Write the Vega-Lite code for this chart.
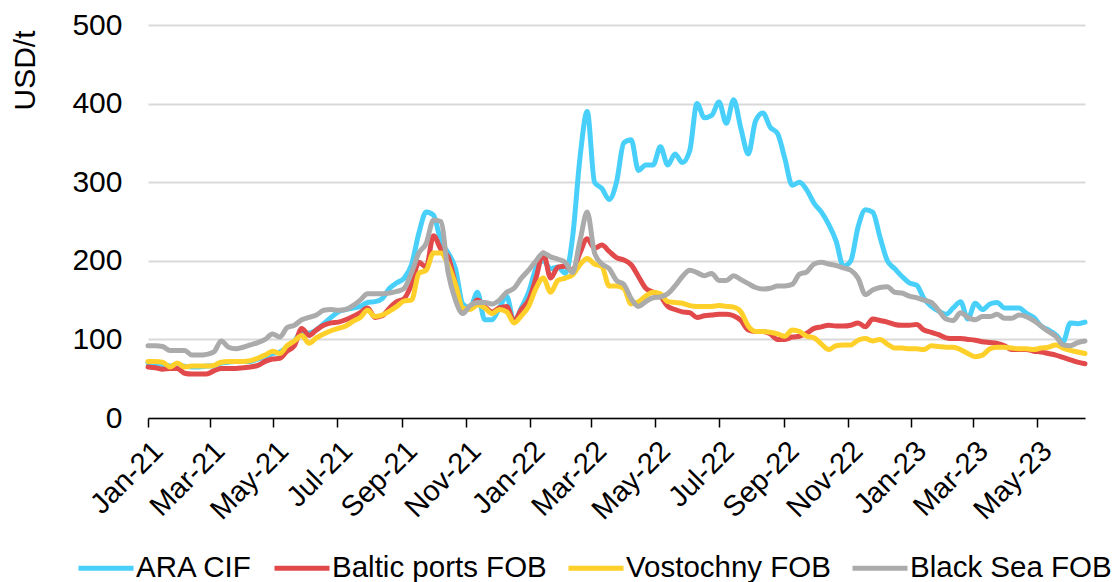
{
"$schema":"https://vega.github.io/schema/vega-lite/v6.json",
"autosize":{"type":"none"},
"padding":{"left":148,"top":25,"right":32,"bottom":164},
"width":937,"height":393,
"background":"white",
"config":{"view":{"stroke":null},"font":"Liberation Sans"},
"data":{"values":[
{"d":"2021-01-01","ARA CIF":70,"Baltic ports FOB":65,"Vostochny FOB":72,"Black Sea FOB":92},
{"d":"2021-01-08","ARA CIF":69,"Baltic ports FOB":64,"Vostochny FOB":72,"Black Sea FOB":92},
{"d":"2021-01-15","ARA CIF":68,"Baltic ports FOB":62,"Vostochny FOB":71,"Black Sea FOB":91},
{"d":"2021-01-22","ARA CIF":66,"Baltic ports FOB":63,"Vostochny FOB":65,"Black Sea FOB":86},
{"d":"2021-01-29","ARA CIF":67,"Baltic ports FOB":63,"Vostochny FOB":70,"Black Sea FOB":86},
{"d":"2021-02-05","ARA CIF":66,"Baltic ports FOB":57,"Vostochny FOB":65,"Black Sea FOB":86},
{"d":"2021-02-12","ARA CIF":65,"Baltic ports FOB":56,"Vostochny FOB":66,"Black Sea FOB":80},
{"d":"2021-02-19","ARA CIF":65,"Baltic ports FOB":56,"Vostochny FOB":66,"Black Sea FOB":80},
{"d":"2021-02-26","ARA CIF":66,"Baltic ports FOB":56,"Vostochny FOB":66,"Black Sea FOB":81},
{"d":"2021-03-05","ARA CIF":66,"Baltic ports FOB":60,"Vostochny FOB":67,"Black Sea FOB":84},
{"d":"2021-03-12","ARA CIF":70,"Baltic ports FOB":63,"Vostochny FOB":71,"Black Sea FOB":98},
{"d":"2021-03-19","ARA CIF":71,"Baltic ports FOB":63,"Vostochny FOB":72,"Black Sea FOB":90},
{"d":"2021-03-26","ARA CIF":72,"Baltic ports FOB":63,"Vostochny FOB":72,"Black Sea FOB":88},
{"d":"2021-04-02","ARA CIF":72,"Baltic ports FOB":64,"Vostochny FOB":72,"Black Sea FOB":90},
{"d":"2021-04-09","ARA CIF":72,"Baltic ports FOB":65,"Vostochny FOB":73,"Black Sea FOB":93},
{"d":"2021-04-16","ARA CIF":75,"Baltic ports FOB":67,"Vostochny FOB":76,"Black Sea FOB":96},
{"d":"2021-04-23","ARA CIF":78,"Baltic ports FOB":72,"Vostochny FOB":80,"Black Sea FOB":100},
{"d":"2021-04-30","ARA CIF":82,"Baltic ports FOB":75,"Vostochny FOB":85,"Black Sea FOB":107},
{"d":"2021-05-07","ARA CIF":84,"Baltic ports FOB":76,"Vostochny FOB":82,"Black Sea FOB":103},
{"d":"2021-05-14","ARA CIF":90,"Baltic ports FOB":85,"Vostochny FOB":92,"Black Sea FOB":115},
{"d":"2021-05-21","ARA CIF":98,"Baltic ports FOB":92,"Vostochny FOB":98,"Black Sea FOB":118},
{"d":"2021-05-28","ARA CIF":110,"Baltic ports FOB":114,"Vostochny FOB":105,"Black Sea FOB":125},
{"d":"2021-06-04","ARA CIF":108,"Baltic ports FOB":105,"Vostochny FOB":95,"Black Sea FOB":128},
{"d":"2021-06-11","ARA CIF":112,"Baltic ports FOB":112,"Vostochny FOB":102,"Black Sea FOB":131},
{"d":"2021-06-18","ARA CIF":120,"Baltic ports FOB":118,"Vostochny FOB":107,"Black Sea FOB":137},
{"d":"2021-06-25","ARA CIF":128,"Baltic ports FOB":121,"Vostochny FOB":111,"Black Sea FOB":138},
{"d":"2021-07-02","ARA CIF":135,"Baltic ports FOB":122,"Vostochny FOB":114,"Black Sea FOB":137},
{"d":"2021-07-09","ARA CIF":138,"Baltic ports FOB":125,"Vostochny FOB":117,"Black Sea FOB":138},
{"d":"2021-07-16","ARA CIF":140,"Baltic ports FOB":129,"Vostochny FOB":123,"Black Sea FOB":143},
{"d":"2021-07-23","ARA CIF":142,"Baltic ports FOB":134,"Vostochny FOB":128,"Black Sea FOB":150},
{"d":"2021-07-30","ARA CIF":147,"Baltic ports FOB":140,"Vostochny FOB":137,"Black Sea FOB":158},
{"d":"2021-08-06","ARA CIF":148,"Baltic ports FOB":128,"Vostochny FOB":129,"Black Sea FOB":158},
{"d":"2021-08-13","ARA CIF":152,"Baltic ports FOB":130,"Vostochny FOB":131,"Black Sea FOB":158},
{"d":"2021-08-20","ARA CIF":165,"Baltic ports FOB":140,"Vostochny FOB":136,"Black Sea FOB":159},
{"d":"2021-08-27","ARA CIF":172,"Baltic ports FOB":148,"Vostochny FOB":142,"Black Sea FOB":161},
{"d":"2021-09-03","ARA CIF":178,"Baltic ports FOB":152,"Vostochny FOB":149,"Black Sea FOB":165},
{"d":"2021-09-10","ARA CIF":195,"Baltic ports FOB":170,"Vostochny FOB":150,"Black Sea FOB":185},
{"d":"2021-09-17","ARA CIF":235,"Baltic ports FOB":198,"Vostochny FOB":184,"Black Sea FOB":210},
{"d":"2021-09-24","ARA CIF":262,"Baltic ports FOB":192,"Vostochny FOB":188,"Black Sea FOB":222},
{"d":"2021-10-01","ARA CIF":258,"Baltic ports FOB":232,"Vostochny FOB":210,"Black Sea FOB":252},
{"d":"2021-10-08","ARA CIF":225,"Baltic ports FOB":215,"Vostochny FOB":210,"Black Sea FOB":250},
{"d":"2021-10-15","ARA CIF":210,"Baltic ports FOB":205,"Vostochny FOB":195,"Black Sea FOB":185},
{"d":"2021-10-22","ARA CIF":190,"Baltic ports FOB":170,"Vostochny FOB":170,"Black Sea FOB":150},
{"d":"2021-10-29","ARA CIF":145,"Baltic ports FOB":138,"Vostochny FOB":140,"Black Sea FOB":133},
{"d":"2021-11-05","ARA CIF":140,"Baltic ports FOB":140,"Vostochny FOB":138,"Black Sea FOB":143},
{"d":"2021-11-12","ARA CIF":160,"Baltic ports FOB":150,"Vostochny FOB":144,"Black Sea FOB":147},
{"d":"2021-11-19","ARA CIF":125,"Baltic ports FOB":142,"Vostochny FOB":140,"Black Sea FOB":147},
{"d":"2021-11-26","ARA CIF":125,"Baltic ports FOB":135,"Vostochny FOB":133,"Black Sea FOB":145},
{"d":"2021-12-03","ARA CIF":140,"Baltic ports FOB":140,"Vostochny FOB":138,"Black Sea FOB":150},
{"d":"2021-12-10","ARA CIF":155,"Baltic ports FOB":142,"Vostochny FOB":135,"Black Sea FOB":160},
{"d":"2021-12-17","ARA CIF":123,"Baltic ports FOB":123,"Vostochny FOB":121,"Black Sea FOB":165},
{"d":"2021-12-24","ARA CIF":140,"Baltic ports FOB":138,"Vostochny FOB":130,"Black Sea FOB":178},
{"d":"2021-12-31","ARA CIF":160,"Baltic ports FOB":150,"Vostochny FOB":142,"Black Sea FOB":188},
{"d":"2022-01-07","ARA CIF":190,"Baltic ports FOB":178,"Vostochny FOB":165,"Black Sea FOB":200},
{"d":"2022-01-14","ARA CIF":200,"Baltic ports FOB":210,"Vostochny FOB":178,"Black Sea FOB":210},
{"d":"2022-01-21","ARA CIF":190,"Baltic ports FOB":178,"Vostochny FOB":160,"Black Sea FOB":205},
{"d":"2022-01-28","ARA CIF":192,"Baltic ports FOB":192,"Vostochny FOB":175,"Black Sea FOB":202},
{"d":"2022-02-04","ARA CIF":184,"Baltic ports FOB":193,"Vostochny FOB":178,"Black Sea FOB":198},
{"d":"2022-02-11","ARA CIF":230,"Baltic ports FOB":188,"Vostochny FOB":182,"Black Sea FOB":185},
{"d":"2022-02-18","ARA CIF":330,"Baltic ports FOB":210,"Vostochny FOB":195,"Black Sea FOB":225},
{"d":"2022-02-25","ARA CIF":390,"Baltic ports FOB":228,"Vostochny FOB":203,"Black Sea FOB":262},
{"d":"2022-03-04","ARA CIF":300,"Baltic ports FOB":216,"Vostochny FOB":196,"Black Sea FOB":210},
{"d":"2022-03-11","ARA CIF":292,"Baltic ports FOB":220,"Vostochny FOB":193,"Black Sea FOB":196},
{"d":"2022-03-18","ARA CIF":278,"Baltic ports FOB":212,"Vostochny FOB":168,"Black Sea FOB":190},
{"d":"2022-03-25","ARA CIF":300,"Baltic ports FOB":204,"Vostochny FOB":168,"Black Sea FOB":175},
{"d":"2022-04-01","ARA CIF":350,"Baltic ports FOB":201,"Vostochny FOB":165,"Black Sea FOB":170},
{"d":"2022-04-08","ARA CIF":354,"Baltic ports FOB":195,"Vostochny FOB":145,"Black Sea FOB":152},
{"d":"2022-04-15","ARA CIF":315,"Baltic ports FOB":180,"Vostochny FOB":148,"Black Sea FOB":142},
{"d":"2022-04-22","ARA CIF":322,"Baltic ports FOB":165,"Vostochny FOB":155,"Black Sea FOB":148},
{"d":"2022-04-29","ARA CIF":322,"Baltic ports FOB":160,"Vostochny FOB":160,"Black Sea FOB":153},
{"d":"2022-05-06","ARA CIF":345,"Baltic ports FOB":155,"Vostochny FOB":158,"Black Sea FOB":154},
{"d":"2022-05-13","ARA CIF":322,"Baltic ports FOB":142,"Vostochny FOB":148,"Black Sea FOB":158},
{"d":"2022-05-20","ARA CIF":336,"Baltic ports FOB":138,"Vostochny FOB":147,"Black Sea FOB":168},
{"d":"2022-05-27","ARA CIF":325,"Baltic ports FOB":135,"Vostochny FOB":146,"Black Sea FOB":180},
{"d":"2022-06-03","ARA CIF":340,"Baltic ports FOB":134,"Vostochny FOB":143,"Black Sea FOB":188},
{"d":"2022-06-10","ARA CIF":400,"Baltic ports FOB":128,"Vostochny FOB":142,"Black Sea FOB":185},
{"d":"2022-06-17","ARA CIF":382,"Baltic ports FOB":130,"Vostochny FOB":142,"Black Sea FOB":181},
{"d":"2022-06-24","ARA CIF":385,"Baltic ports FOB":131,"Vostochny FOB":142,"Black Sea FOB":184},
{"d":"2022-07-01","ARA CIF":402,"Baltic ports FOB":132,"Vostochny FOB":143,"Black Sea FOB":175},
{"d":"2022-07-08","ARA CIF":375,"Baltic ports FOB":132,"Vostochny FOB":142,"Black Sea FOB":175},
{"d":"2022-07-15","ARA CIF":405,"Baltic ports FOB":130,"Vostochny FOB":141,"Black Sea FOB":181},
{"d":"2022-07-22","ARA CIF":368,"Baltic ports FOB":124,"Vostochny FOB":135,"Black Sea FOB":176},
{"d":"2022-07-29","ARA CIF":336,"Baltic ports FOB":112,"Vostochny FOB":117,"Black Sea FOB":171},
{"d":"2022-08-05","ARA CIF":378,"Baltic ports FOB":110,"Vostochny FOB":110,"Black Sea FOB":166},
{"d":"2022-08-12","ARA CIF":388,"Baltic ports FOB":110,"Vostochny FOB":110,"Black Sea FOB":164},
{"d":"2022-08-19","ARA CIF":370,"Baltic ports FOB":107,"Vostochny FOB":109,"Black Sea FOB":165},
{"d":"2022-08-26","ARA CIF":362,"Baltic ports FOB":100,"Vostochny FOB":107,"Black Sea FOB":168},
{"d":"2022-09-02","ARA CIF":330,"Baltic ports FOB":100,"Vostochny FOB":104,"Black Sea FOB":168},
{"d":"2022-09-09","ARA CIF":296,"Baltic ports FOB":103,"Vostochny FOB":112,"Black Sea FOB":170},
{"d":"2022-09-16","ARA CIF":300,"Baltic ports FOB":104,"Vostochny FOB":110,"Black Sea FOB":183},
{"d":"2022-09-23","ARA CIF":290,"Baltic ports FOB":108,"Vostochny FOB":104,"Black Sea FOB":186},
{"d":"2022-09-30","ARA CIF":273,"Baltic ports FOB":114,"Vostochny FOB":102,"Black Sea FOB":196},
{"d":"2022-10-07","ARA CIF":262,"Baltic ports FOB":116,"Vostochny FOB":94,"Black Sea FOB":198},
{"d":"2022-10-14","ARA CIF":246,"Baltic ports FOB":118,"Vostochny FOB":87,"Black Sea FOB":196},
{"d":"2022-10-21","ARA CIF":225,"Baltic ports FOB":117,"Vostochny FOB":92,"Black Sea FOB":194},
{"d":"2022-10-28","ARA CIF":193,"Baltic ports FOB":117,"Vostochny FOB":93,"Black Sea FOB":191},
{"d":"2022-11-04","ARA CIF":200,"Baltic ports FOB":118,"Vostochny FOB":93,"Black Sea FOB":188},
{"d":"2022-11-11","ARA CIF":243,"Baltic ports FOB":121,"Vostochny FOB":99,"Black Sea FOB":178},
{"d":"2022-11-18","ARA CIF":265,"Baltic ports FOB":116,"Vostochny FOB":101,"Black Sea FOB":157},
{"d":"2022-11-25","ARA CIF":262,"Baltic ports FOB":126,"Vostochny FOB":98,"Black Sea FOB":163},
{"d":"2022-12-02","ARA CIF":230,"Baltic ports FOB":124,"Vostochny FOB":100,"Black Sea FOB":166},
{"d":"2022-12-09","ARA CIF":200,"Baltic ports FOB":122,"Vostochny FOB":94,"Black Sea FOB":167},
{"d":"2022-12-16","ARA CIF":190,"Baltic ports FOB":119,"Vostochny FOB":89,"Black Sea FOB":160},
{"d":"2022-12-23","ARA CIF":180,"Baltic ports FOB":118,"Vostochny FOB":89,"Black Sea FOB":159},
{"d":"2022-12-30","ARA CIF":172,"Baltic ports FOB":118,"Vostochny FOB":88,"Black Sea FOB":155},
{"d":"2023-01-06","ARA CIF":169,"Baltic ports FOB":119,"Vostochny FOB":88,"Black Sea FOB":153},
{"d":"2023-01-13","ARA CIF":152,"Baltic ports FOB":112,"Vostochny FOB":87,"Black Sea FOB":150},
{"d":"2023-01-20","ARA CIF":142,"Baltic ports FOB":109,"Vostochny FOB":92,"Black Sea FOB":147},
{"d":"2023-01-27","ARA CIF":136,"Baltic ports FOB":106,"Vostochny FOB":91,"Black Sea FOB":137},
{"d":"2023-02-03","ARA CIF":132,"Baltic ports FOB":102,"Vostochny FOB":90,"Black Sea FOB":126},
{"d":"2023-02-10","ARA CIF":140,"Baltic ports FOB":101,"Vostochny FOB":90,"Black Sea FOB":124},
{"d":"2023-02-17","ARA CIF":148,"Baltic ports FOB":101,"Vostochny FOB":87,"Black Sea FOB":134},
{"d":"2023-02-24","ARA CIF":126,"Baltic ports FOB":100,"Vostochny FOB":82,"Black Sea FOB":128},
{"d":"2023-03-03","ARA CIF":146,"Baltic ports FOB":99,"Vostochny FOB":78,"Black Sea FOB":125},
{"d":"2023-03-10","ARA CIF":138,"Baltic ports FOB":97,"Vostochny FOB":80,"Black Sea FOB":129},
{"d":"2023-03-17","ARA CIF":145,"Baltic ports FOB":96,"Vostochny FOB":88,"Black Sea FOB":129},
{"d":"2023-03-24","ARA CIF":147,"Baltic ports FOB":95,"Vostochny FOB":90,"Black Sea FOB":132},
{"d":"2023-03-31","ARA CIF":140,"Baltic ports FOB":92,"Vostochny FOB":90,"Black Sea FOB":127},
{"d":"2023-04-07","ARA CIF":140,"Baltic ports FOB":87,"Vostochny FOB":89,"Black Sea FOB":127},
{"d":"2023-04-14","ARA CIF":140,"Baltic ports FOB":87,"Vostochny FOB":88,"Black Sea FOB":131},
{"d":"2023-04-21","ARA CIF":133,"Baltic ports FOB":87,"Vostochny FOB":88,"Black Sea FOB":129},
{"d":"2023-04-28","ARA CIF":128,"Baltic ports FOB":85,"Vostochny FOB":87,"Black Sea FOB":124},
{"d":"2023-05-05","ARA CIF":117,"Baltic ports FOB":84,"Vostochny FOB":89,"Black Sea FOB":117},
{"d":"2023-05-12","ARA CIF":112,"Baltic ports FOB":82,"Vostochny FOB":90,"Black Sea FOB":110},
{"d":"2023-05-19","ARA CIF":106,"Baltic ports FOB":80,"Vostochny FOB":93,"Black Sea FOB":104},
{"d":"2023-05-26","ARA CIF":97,"Baltic ports FOB":77,"Vostochny FOB":89,"Black Sea FOB":93},
{"d":"2023-06-02","ARA CIF":121,"Baltic ports FOB":74,"Vostochny FOB":86,"Black Sea FOB":92},
{"d":"2023-06-09","ARA CIF":120,"Baltic ports FOB":71,"Vostochny FOB":84,"Black Sea FOB":96},
{"d":"2023-06-16","ARA CIF":122,"Baltic ports FOB":69,"Vostochny FOB":82,"Black Sea FOB":98}
]},
"transform":[{"fold":["ARA CIF","Baltic ports FOB","Vostochny FOB","Black Sea FOB"],"as":["series","value"]}],
"encoding":{
"x":{"field":"d","type":"temporal",
 "scale":{"type":"utc","domain":[{"year":2021,"month":1,"date":1,"utc":true},{"year":2023,"month":6,"date":16,"utc":true}]},
 "axis":{"title":null,"format":"%b-%y",
  "values":[{"year":2021,"month":1,"date":1,"utc":true},{"year":2021,"month":3,"date":1,"utc":true},{"year":2021,"month":5,"date":1,"utc":true},{"year":2021,"month":7,"date":1,"utc":true},{"year":2021,"month":9,"date":1,"utc":true},{"year":2021,"month":11,"date":1,"utc":true},{"year":2022,"month":1,"date":1,"utc":true},{"year":2022,"month":3,"date":1,"utc":true},{"year":2022,"month":5,"date":1,"utc":true},{"year":2022,"month":7,"date":1,"utc":true},{"year":2022,"month":9,"date":1,"utc":true},{"year":2022,"month":11,"date":1,"utc":true},{"year":2023,"month":1,"date":1,"utc":true},{"year":2023,"month":3,"date":1,"utc":true},{"year":2023,"month":5,"date":1,"utc":true}],
  "grid":false,"domainColor":"#000000","domainWidth":1.5,"tickColor":"#000000","tickWidth":1.5,"tickSize":9,
  "labelAngle":-45,"labelAlign":"right","labelBaseline":"top","labelPadding":9,"labelFontSize":29,"labelColor":"#000000","labelFont":"Liberation Sans","labelOverlap":false,"labelFlush":false}},
"y":{"field":"value","type":"quantitative",
 "scale":{"domain":[0,500],"nice":false},
 "axis":{"values":[0,100,200,300,400,500],"domain":false,"ticks":false,"grid":true,"gridColor":"#d9d9d9","gridWidth":2,
  "labelFontSize":30,"labelColor":"#000000","labelFont":"Liberation Sans","labelPadding":26,
  "title":"USD/t","titleFontSize":30,"titleFontWeight":"normal","titleColor":"#000000","titleFont":"Liberation Sans",
  "titleAngle":-90,"titleAlign":"center","titleBaseline":"middle","titleX":-123,"titleY":45}},
"color":{"field":"series","type":"nominal",
 "scale":{"domain":["ARA CIF","Baltic ports FOB","Vostochny FOB","Black Sea FOB"],"range":["#48D0FB","#E2494B","#FFD029","#ABABAB"]},
 "legend":{"title":null,"orient":"none","direction":"horizontal","legendX":-72,"legendY":513,
  "symbolType":"stroke","symbolSize":3025,"symbolStrokeWidth":5,"labelFontSize":29.5,"labelFont":"Liberation Sans","labelColor":"#000000","labelOffset":0,"columnPadding":11,"labelLimit":400}}
},
"layer":[
{"transform":[{"filter":{"field":"series","equal":"ARA CIF"}}],"mark":{"type":"line","strokeWidth":5,"interpolate":"monotone","strokeCap":"round","strokeJoin":"round"}},
{"transform":[{"filter":{"field":"series","equal":"Baltic ports FOB"}}],"mark":{"type":"line","strokeWidth":5,"interpolate":"monotone","strokeCap":"round","strokeJoin":"round"}},
{"transform":[{"filter":{"field":"series","equal":"Vostochny FOB"}}],"mark":{"type":"line","strokeWidth":5,"interpolate":"monotone","strokeCap":"round","strokeJoin":"round"}},
{"transform":[{"filter":{"field":"series","equal":"Black Sea FOB"}}],"mark":{"type":"line","strokeWidth":5,"interpolate":"monotone","strokeCap":"round","strokeJoin":"round"}}
]
}
